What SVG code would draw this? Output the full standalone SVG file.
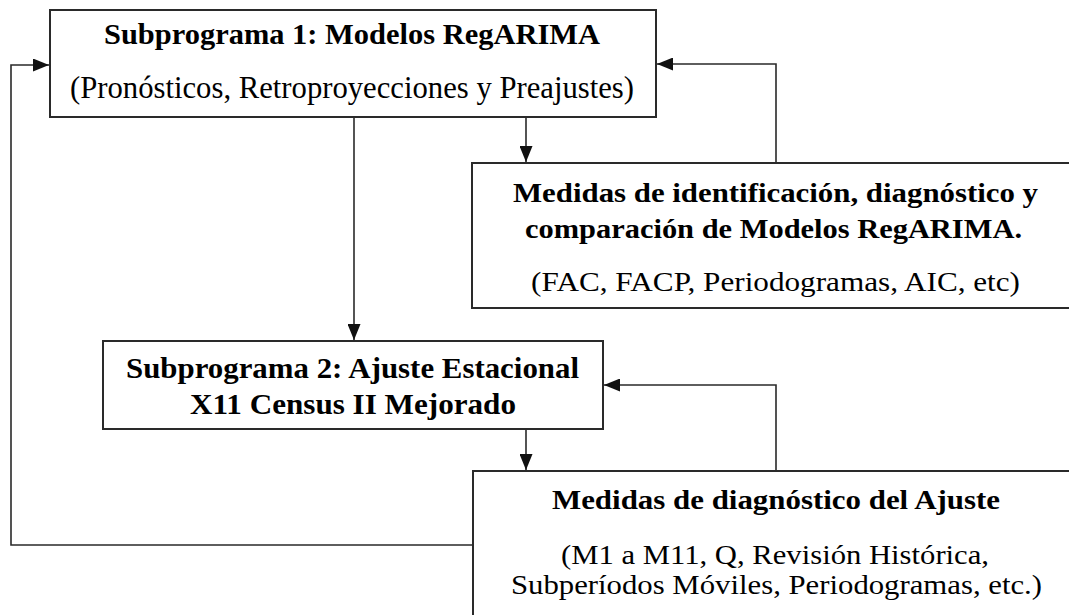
<svg xmlns="http://www.w3.org/2000/svg" width="1069" height="615" viewBox="0 0 1069 615">
<style>
.box{fill:#ffffff;stroke:#2a2a2a;stroke-width:2}
.ln{fill:none;stroke:#2a2a2a;stroke-width:1.6}
.t{font-family:"Liberation Serif","Times New Roman",serif;fill:#000;text-anchor:middle}
.b{font-weight:bold}
</style>
<defs>
<marker id="ah" markerWidth="16" markerHeight="13" refX="16" refY="6.5" orient="auto" markerUnits="userSpaceOnUse">
<path d="M0,0 L16,6.5 L0,13 Z" fill="#111"/>
</marker>
</defs>
<rect width="1069" height="615" fill="#ffffff"/>
<g id="connectors">
<polyline class="ln" points="473,545 11,545 11,65 49,65" marker-end="url(#ah)"/>
<polyline class="ln" points="776,163 776,64 657,64" marker-end="url(#ah)"/>
<line class="ln" x1="354" y1="117" x2="354" y2="340" marker-end="url(#ah)"/>
<line class="ln" x1="526" y1="117" x2="526" y2="162" marker-end="url(#ah)"/>
<polyline class="ln" points="776,471 776,385 604,385" marker-end="url(#ah)"/>
<line class="ln" x1="526" y1="429" x2="526" y2="470" marker-end="url(#ah)"/>
</g>
<g id="node-subprograma1">
<rect class="box" x="50" y="10" width="606" height="107"/>
<text class="t b" x="352" y="44" font-size="30" textLength="496" lengthAdjust="spacingAndGlyphs">Subprograma 1: Modelos RegARIMA</text>
<text class="t" x="352" y="98" font-size="31" textLength="564" lengthAdjust="spacingAndGlyphs">(Pronósticos, Retroproyecciones y Preajustes)</text>
</g>
<g id="node-medidas-identificacion">
<rect class="box" x="472" y="163" width="610" height="145"/>
<text class="t b" x="775.5" y="202" font-size="28" textLength="525" lengthAdjust="spacingAndGlyphs">Medidas de identificación, diagnóstico y</text>
<text class="t b" x="773.5" y="238" font-size="28" textLength="497" lengthAdjust="spacingAndGlyphs">comparación de Modelos RegARIMA.</text>
<text class="t" x="775.5" y="291" font-size="28" textLength="489" lengthAdjust="spacingAndGlyphs">(FAC, FACP, Periodogramas, AIC, etc)</text>
</g>
<g id="node-subprograma2">
<rect class="box" x="103" y="341" width="500" height="88"/>
<text class="t b" x="352.5" y="378" font-size="30" textLength="453" lengthAdjust="spacingAndGlyphs">Subprograma 2: Ajuste Estacional</text>
<text class="t b" x="353" y="414" font-size="30" textLength="326" lengthAdjust="spacingAndGlyphs">X11 Census II Mejorado</text>
</g>
<g id="node-medidas-ajuste">
<rect class="box" x="473" y="471" width="610" height="160"/>
<text class="t b" x="776" y="509" font-size="28" textLength="448" lengthAdjust="spacingAndGlyphs">Medidas de diagnóstico del Ajuste</text>
<text class="t" x="775" y="564" font-size="28" textLength="428" lengthAdjust="spacingAndGlyphs">(M1 a M11, Q, Revisión Histórica,</text>
<text class="t" x="776.5" y="594" font-size="28" textLength="531" lengthAdjust="spacingAndGlyphs">Subperíodos Móviles, Periodogramas, etc.)</text>
</g>
</svg>
